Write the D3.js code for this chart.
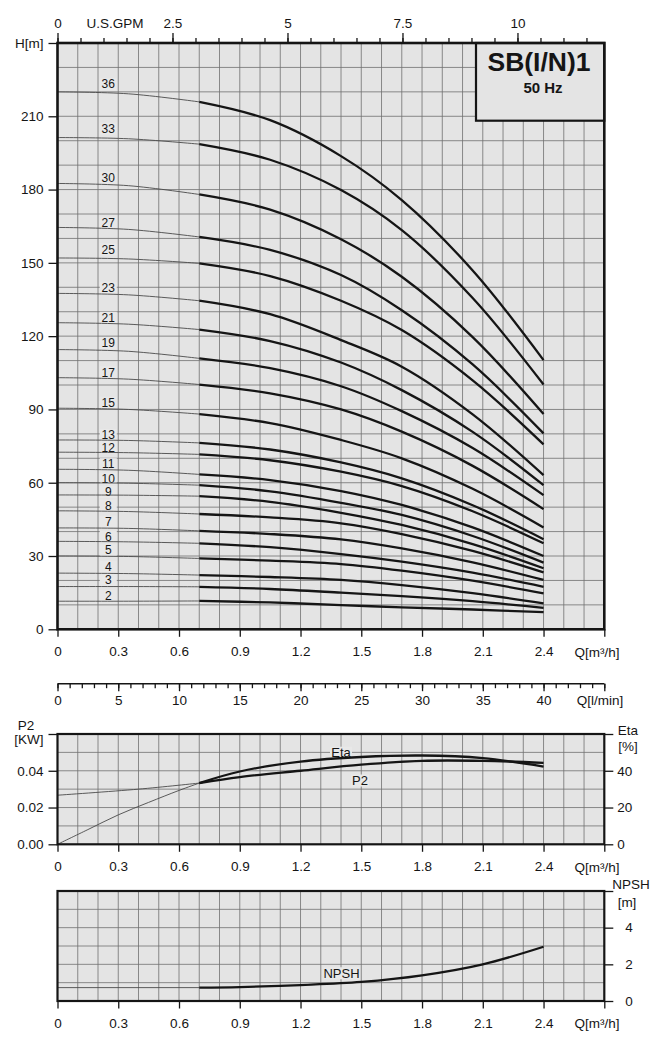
<!DOCTYPE html>
<html><head><meta charset="utf-8">
<script src="https://cdn.jsdelivr.net/npm/d3@7"></script>
<style>
body{margin:0;background:#fff}
svg text{font-family:"Liberation Sans",Arial,Helvetica,sans-serif;fill:#151515}
</style>
</head><body>
<svg id="c" width="653" height="1049"></svg>
<script>
// ---------------- DATA ----------------
const qPoints = [0, 0.35, 0.7, 1.05, 1.4, 1.7, 2.05, 2.4];          // m3/h
const stages  = [36,33,30,27,25,23,21,19,17,15,13,12,11,10,9,8,7,6,5,4,3,2];
const headCurves = [
  [220.0,219.2,215.9,208.4,193.7,175.7,146.9,110.2],
  [201.3,200.8,198.6,192.2,179.8,163.4,135.6,100.2],
  [182.5,181.6,178.0,171.8,159.7,144.3,119.6, 88.1],
  [164.5,163.7,160.6,155.3,145.0,130.6,108.4, 80.2],
  [152.0,151.6,149.8,144.6,134.5,122.5,101.9, 75.7],
  [137.5,136.9,134.5,129.0,118.4,107.5, 88.0, 63.1],
  [125.5,124.9,122.7,118.0,109.2, 97.9, 80.8, 59.0],
  [114.5,113.8,110.9,106.9, 99.5, 89.3, 74.2, 54.9],
  [103.0,102.4,100.2, 96.6, 90.0, 80.9, 66.9, 49.2],
  [ 90.5, 90.0, 88.1, 84.4, 77.5, 70.0, 57.5, 41.7],
  [ 77.5, 77.3, 76.3, 73.6, 68.3, 61.8, 50.8, 36.9],
  [ 72.5, 72.3, 71.6, 69.2, 64.5, 58.6, 48.3, 35.2],
  [ 65.5, 65.1, 63.4, 61.1, 56.6, 50.9, 41.7, 30.0],
  [ 60.0, 59.8, 59.0, 56.5, 51.8, 46.8, 38.2, 27.3],
  [ 55.0, 54.9, 54.5, 52.2, 47.7, 42.7, 34.9, 25.0],
  [ 48.5, 48.2, 47.2, 45.8, 43.4, 39.0, 32.1, 23.3],
  [ 41.5, 41.3, 40.3, 39.0, 36.8, 33.1, 27.4, 20.2],
  [ 36.0, 35.8, 35.2, 33.6, 30.8, 27.7, 23.2, 17.4],
  [ 30.0, 29.8, 29.0, 28.1, 26.7, 24.0, 19.9, 14.7],
  [ 23.0, 22.8, 22.2, 21.4, 20.2, 18.1, 14.8, 10.6],
  [ 17.5, 17.5, 17.4, 16.5, 15.0, 13.6, 11.5,  8.8],
  [ 11.5, 11.5, 11.6, 11.0,  9.9,  9.0,  8.1,  7.0]
];
const stageLabelHead = [223.1,205,184.8,166.4,155.5,139.8,127.5,117.2,105.2,92.7,79.5,74.5,67.6,61.8,56.3,50.6,44,37.9,32.4,25.6,20.2,13.7];
const headTicks = [0,30,60,90,120,150,180,210];
const qTicks = [0,0.3,0.6,0.9,1.2,1.5,1.8,2.1,2.4,2.7];
const qTickLabels = ["0","0.3","0.6","0.9","1.2","1.5","1.8","2.1","2.4",""];
const gpmTicks = [0,2.5,5,7.5,10];
const gpmTickLabels = ["0","2.5","5","7.5","10"];
const lminTicks = [0,5,10,15,20,25,30,35,40,45];
const lminTickLabels = ["0","5","10","15","20","25","30","35","40",""];

const etaQ    = [0, 0.15, 0.3, 0.45, 0.6, 0.7, 0.9, 1.2, 1.5, 1.8, 2.1, 2.4];
const etaVals = [0, 8.0, 16.0, 22.8, 29.3, 33.3, 39.6, 45.0, 47.5, 48.3, 46.9, 42.3];
const p2Q     = [0, 0.4, 0.7, 0.9, 1.2, 1.5, 1.8, 2.1, 2.4];
const p2Vals  = [0.0267, 0.0300, 0.0333, 0.0366, 0.0400, 0.0433, 0.0454, 0.0454, 0.0443];
const p2Ticks = [0, 0.02, 0.04, 0.06];
const p2TickLabels = ["0.00","0.02","0.04",""];
const etaTicks = [0, 20, 40, 60];
const etaTickLabels = ["0","20","40",""];
const npshQ    = [0, 0.7, 0.9, 1.2, 1.5, 1.8, 2.1, 2.4];
const npshVals = [0.73, 0.73, 0.76, 0.87, 1.04, 1.40, 2.00, 2.96];
const npshTicks = [0, 2, 4, 6];
const npshTickLabels = ["0","2","4",""];

// ---------------- LAYOUT ----------------
const svg = d3.select("#c");
const L = 57.5, R = 604.3;
const BG = "#e4e4e4", GRID = "#707070", INK = "#151515";
const FS = 13.5;
const x = d3.scaleLinear().domain([0, 2.7]).range([L, R]);
const THIN = 0.9, THICK = 2.3;
const CURVE = d3.curveCatmullRom.alpha(0.5);

function styleAxis(g, fs) {
  g.select(".domain").remove();
  g.selectAll(".tick line").attr("stroke", INK).attr("stroke-width", 1.3);
  g.selectAll(".tick text").attr("font-size", fs || FS).attr("fill", INK);
}

function panel(yScale, yTop, yBot, hGridVals) {
  const g = svg.append("g");
  g.append("rect").attr("x", L).attr("y", yTop).attr("width", R - L).attr("height", yBot - yTop).attr("fill", BG);
  g.selectAll(".vg").data(d3.range(1, 27).map(i => i / 10)).join("line")
    .attr("x1", d => x(d)).attr("x2", d => x(d)).attr("y1", yTop).attr("y2", yBot)
    .attr("stroke", GRID).attr("stroke-width", 0.8);
  g.selectAll(".hg").data(hGridVals).join("line")
    .attr("x1", L).attr("x2", R).attr("y1", d => yScale(d)).attr("y2", d => yScale(d))
    .attr("stroke", GRID).attr("stroke-width", 0.8);
  return g;
}
function bottomQAxis(yBase) {
  const a = d3.axisBottom(x).tickValues(qTicks).tickSize(7.5).tickPadding(10)
    .tickFormat((d, i) => qTickLabels[i]);
  svg.append("g").attr("transform", `translate(0,${yBase})`).call(a).call(styleAxis);
  svg.append("text").attr("x", 597).attr("y", yBase + 22.5).attr("dy", "0.35em")
    .attr("text-anchor", "middle").attr("font-size", FS).text("Q[m³/h]");
}
function labelBox(g, xc, yc, txt, w, fs) {
  g.append("rect").attr("x", xc - w / 2).attr("y", yc - 6).attr("width", w).attr("height", 12).attr("fill", "#e8e8e8");
  g.append("text").attr("x", xc).attr("y", yc).attr("dy", "0.35em").attr("text-anchor", "middle")
    .attr("font-size", fs).text(txt);
}

// ---------------- MAIN H-Q CHART ----------------
const yH = d3.scaleLinear().domain([0, 240]).range([629.3, 43]);
const gMain = panel(yH, yH(240), yH(0), d3.range(10, 240, 10));

// title box
gMain.append("rect").attr("x", 476).attr("y", yH(240)).attr("width", R - 476).attr("height", 77.7)
  .attr("fill", BG).attr("stroke", INK).attr("stroke-width", 2.2);
gMain.append("text").attr("x", 539).attr("y", 70.5).attr("text-anchor", "middle")
  .attr("font-size", 26.5).attr("font-weight", "bold").text("SB(I/N)1");
gMain.append("text").attr("x", 543).attr("y", 92.5).attr("text-anchor", "middle")
  .attr("font-size", 15).attr("font-weight", "bold").text("50 Hz");

// stage labels
stages.forEach((s, i) => labelBox(gMain, 108.3, yH(stageLabelHead[i]), String(s), 17, 12));

const lineH = d3.line().x(d => x(d[0])).y(d => yH(d[1])).curve(CURVE);
headCurves.forEach(vals => {
  const pts = qPoints.map((q, i) => [q, vals[i]]);
  gMain.append("path").attr("d", lineH(pts.filter(p => p[0] <= 0.7)))
    .attr("fill", "none").attr("stroke", "#4a4a4a").attr("stroke-width", THIN);
  gMain.append("path").attr("d", lineH(pts.filter(p => p[0] >= 0.7)))
    .attr("fill", "none").attr("stroke", INK).attr("stroke-width", THICK);
});
gMain.append("rect").attr("x", L).attr("y", yH(240)).attr("width", R - L).attr("height", yH(0) - yH(240))
  .attr("fill", "none").attr("stroke", INK).attr("stroke-width", 2.6);

// axes main
svg.append("g").attr("transform", `translate(${L},0)`)
  .call(d3.axisLeft(yH).tickValues(headTicks.concat([240])).tickSize(9).tickPadding(5)
    .tickFormat(d => d === 240 ? "H[m]" : d))
  .call(styleAxis);

const xG = d3.scaleLinear().domain([0, 2.7 / 0.2271247]).range([L, R]);
svg.append("g").attr("transform", `translate(0,${yH(240)})`)
  .call(d3.axisTop(xG).tickValues(d3.range(0, 12, 0.5)).tickSize(5).tickFormat(""))
  .call(styleAxis);
svg.append("g").attr("transform", `translate(0,${yH(240)})`)
  .call(d3.axisTop(xG).tickValues(gpmTicks).tickSize(10).tickPadding(5).tickFormat((d, i) => gpmTickLabels[i]))
  .call(styleAxis);
svg.append("text").attr("x", xG(1.25)).attr("y", 23.3).attr("dy", "0.35em").attr("text-anchor", "middle")
  .attr("font-size", FS).text("U.S.GPM");

bottomQAxis(yH(0));

// l/min axis
const xL = d3.scaleLinear().domain([0, 45]).range([L, R]);
const yLm = 683.7;
svg.append("line").attr("x1", L).attr("x2", R).attr("y1", yLm).attr("y2", yLm).attr("stroke", INK).attr("stroke-width", 1.6);
svg.append("g").attr("transform", `translate(0,${yLm})`)
  .call(d3.axisBottom(xL).tickValues(d3.range(0, 46, 1)).tickSize(4.5).tickFormat(""))
  .call(styleAxis);
svg.append("g").attr("transform", `translate(0,${yLm})`)
  .call(d3.axisBottom(xL).tickValues(lminTicks).tickSize(7.5).tickPadding(4.5).tickFormat((d, i) => lminTickLabels[i]))
  .call(styleAxis);
svg.append("text").attr("x", 600).attr("y", 700).attr("dy", "0.35em").attr("text-anchor", "middle")
  .attr("font-size", FS).text("Q[l/min]");

// ---------------- P2 / ETA CHART ----------------
const yP = d3.scaleLinear().domain([0, 0.06]).range([844.3, 734]);
const yE = d3.scaleLinear().domain([0, 60]).range([844.3, 734]);
const gP = panel(yP, yP(0.06), yP(0), [0.01, 0.02, 0.03, 0.04, 0.05]);
labelBox(gP, 341, 752.7, "Eta", 22, 13);
labelBox(gP, 360, 780.5, "P2", 18, 13);
const lineE = d3.line().x(d => x(d[0])).y(d => yE(d[1])).curve(CURVE);
const lineP = d3.line().x(d => x(d[0])).y(d => yP(d[1])).curve(CURVE);
const etaPts = etaQ.map((q, i) => [q, etaVals[i]]);
const p2Pts = p2Q.map((q, i) => [q, p2Vals[i]]);
[[lineE, etaPts], [lineP, p2Pts]].forEach(([ln, pts]) => {
  gP.append("path").attr("d", ln(pts.filter(p => p[0] <= 0.7))).attr("fill", "none").attr("stroke", "#4a4a4a").attr("stroke-width", THIN);
  gP.append("path").attr("d", ln(pts.filter(p => p[0] >= 0.7))).attr("fill", "none").attr("stroke", INK).attr("stroke-width", THICK);
});
gP.append("rect").attr("x", L).attr("y", yP(0.06)).attr("width", R - L).attr("height", yP(0) - yP(0.06))
  .attr("fill", "none").attr("stroke", INK).attr("stroke-width", 2.2);
svg.append("g").attr("transform", `translate(${L},0)`)
  .call(d3.axisLeft(yP).tickValues(p2Ticks).tickSize(9).tickPadding(5).tickFormat((d, i) => p2TickLabels[i]))
  .call(styleAxis);
svg.append("g").attr("transform", `translate(${R},0)`)
  .call(d3.axisRight(yE).tickValues(etaTicks).tickSize(9).tickPadding(4).tickFormat((d, i) => etaTickLabels[i]))
  .call(styleAxis);
svg.append("text").attr("x", 26).attr("y", 725).attr("dy", "0.35em").attr("text-anchor", "middle").attr("font-size", FS).text("P2");
svg.append("text").attr("x", 43.5).attr("y", 739.5).attr("dy", "0.35em").attr("text-anchor", "end").attr("font-size", FS).text("[KW]");
svg.append("text").attr("x", 628).attr("y", 730).attr("dy", "0.35em").attr("text-anchor", "middle").attr("font-size", FS).text("Eta");
svg.append("text").attr("x", 628).attr("y", 746).attr("dy", "0.35em").attr("text-anchor", "middle").attr("font-size", FS).text("[%]");
bottomQAxis(yP(0));

// ---------------- NPSH CHART ----------------
const yN = d3.scaleLinear().domain([0, 6]).range([1001, 891]);
const gN = panel(yN, yN(6), yN(0), [1, 2, 3, 4, 5]);
labelBox(gN, 341.5, 973.3, "NPSH", 36, 13);
const lineN = d3.line().x(d => x(d[0])).y(d => yN(d[1])).curve(CURVE);
const nPts = npshQ.map((q, i) => [q, npshVals[i]]);
gN.append("path").attr("d", lineN(nPts.filter(p => p[0] <= 0.7))).attr("fill", "none").attr("stroke", "#4a4a4a").attr("stroke-width", THIN);
gN.append("path").attr("d", lineN(nPts.filter(p => p[0] >= 0.7))).attr("fill", "none").attr("stroke", INK).attr("stroke-width", THICK);
gN.append("rect").attr("x", L).attr("y", yN(6)).attr("width", R - L).attr("height", yN(0) - yN(6))
  .attr("fill", "none").attr("stroke", INK).attr("stroke-width", 2.2);
svg.append("g").attr("transform", `translate(${R},0)`)
  .call(d3.axisRight(yN).tickValues(npshTicks).tickSize(9).tickPadding(12).tickFormat((d, i) => npshTickLabels[i]))
  .call(styleAxis);
svg.append("text").attr("x", 631).attr("y", 884).attr("dy", "0.35em").attr("text-anchor", "middle").attr("font-size", FS).text("NPSH");
svg.append("text").attr("x", 627).attr("y", 902).attr("dy", "0.35em").attr("text-anchor", "middle").attr("font-size", FS).text("[m]");
bottomQAxis(yN(0));
</script>
</body></html>
